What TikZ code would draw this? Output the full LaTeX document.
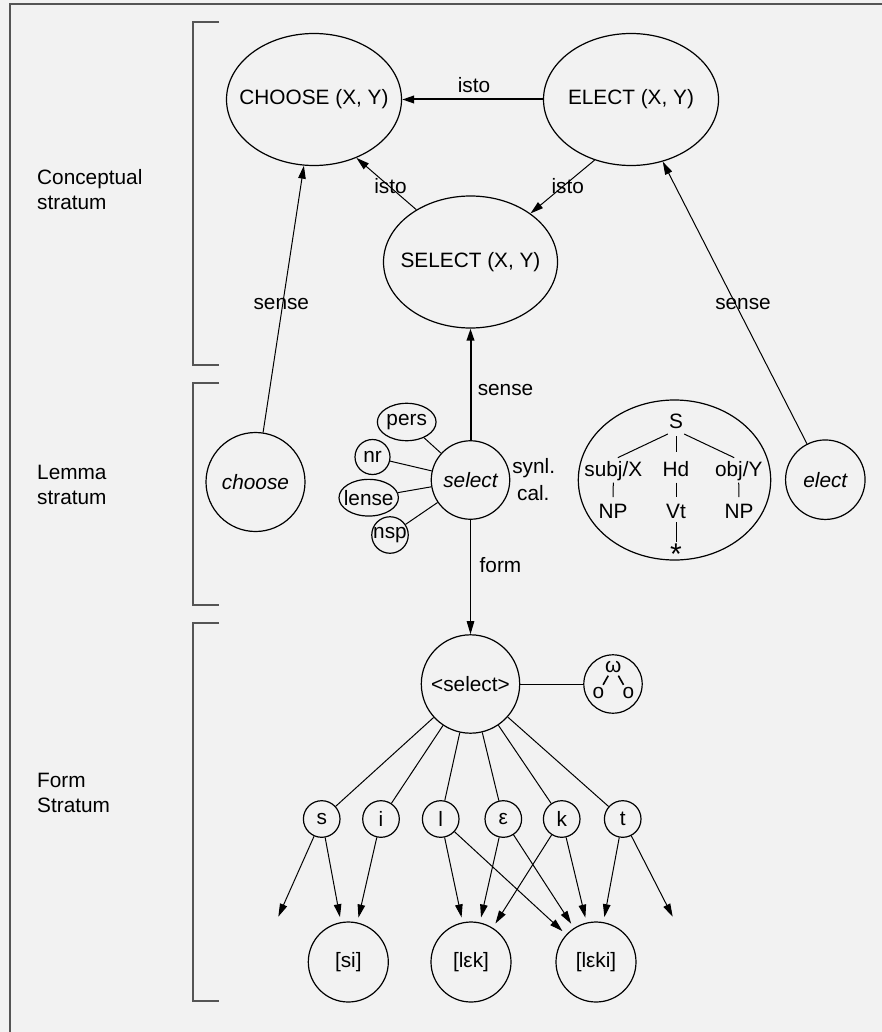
\documentclass[tikz,border=0pt]{standalone}
\usepackage{fontspec}
\setmainfont{Liberation Sans}
\usetikzlibrary{shapes.geometric,arrows.meta}
\definecolor{bg}{HTML}{F2F2F2}
\definecolor{framecol}{HTML}{555555}
\newcommand{\fsz}{\fontsize{20.8}{25}\selectfont}
\begin{document}
\begin{tikzpicture}[x=1pt,y=-1pt, font=\fsz,
  ell/.style={draw, ellipse, line width=1.2pt, inner sep=0pt},
  circ/.style={draw, circle, line width=1.2pt, inner sep=0pt},
  arr/.style={-{Triangle[length=13pt,width=7.5pt]}, line width=1pt},
  thickarr/.style={-{Triangle[length=12pt,width=7.5pt]}, line width=2pt},
  plain/.style={line width=1pt},
  txt/.style={inner sep=0pt, anchor=base},
  tree/.style={inner sep=1pt, anchor=base, text height=15pt, text depth=4.5pt},
  brk/.style={line width=1.6pt, draw=framecol},
  stratum/.style={inner sep=0pt, anchor=north west, align=left},
]
\fill[bg] (0,0) rectangle (882,1032);
\useasboundingbox (0,0) rectangle (882,1032);
\draw[line width=2pt, framecol] (9.5,1045) -- (9.5,4.5) -- (895,4.5);

% strata brackets
\draw[brk] (219,22) -- (193,22) -- (193,365) -- (219,365);
\draw[brk] (219,383) -- (193,383) -- (193,605) -- (219,605);
\draw[brk] (219,623) -- (193,623) -- (193,1001) -- (219,1001);
\node[stratum] (concL) at (37,169.5) {Conceptual\\stratum};
\node[stratum] (lemL) at (37,464.7) {Lemma\\stratum};
\node[stratum] (formL) at (37,773) {Form\\Stratum};

% conceptual stratum
\node[ell, minimum width=175pt, minimum height=132pt, label=center:{CHOOSE (X, Y)}] (CHOOSE) at (314,99.5) {};
\node[ell, minimum width=175pt, minimum height=132pt, label=center:{ELECT (X, Y)}] (ELECT) at (631,99.5) {};
\node[ell, minimum width=174pt, minimum height=132pt, label=center:{SELECT (X, Y)}] (SELECT) at (470.5,262) {};

\draw[thickarr] (ELECT.west) -- (CHOOSE.east);
\draw[arr] (SELECT.136) -- (CHOOSE.-54);
\draw[arr] (ELECT.239) -- (SELECT.39);
\node[txt] (isto1) at (474,92.3) {isto};
\node[txt] (isto2) at (390.5,193.3) {isto};
\node[txt] (isto3) at (567.8,193.3) {isto};

% lemma stratum
\node[circ, minimum size=99pt, label=center:{\itshape choose}] (choose) at (255.5,482) {};
\node[circ, minimum size=79.5pt, label=center:{\itshape elect}] (elect) at (825.3,479.7) {};
\node[circ, minimum size=78.5pt, label=center:{\itshape select}] (sel) at (470.5,480) {};
\node[ell, minimum width=58.7pt, minimum height=37.4pt, label=center:{pers}] (pers) at (406.7,422) {};
\node[circ, minimum size=35pt, label=center:{nr}] (nr) at (372.5,457) {};
\node[ell, minimum width=59.4pt, minimum height=36.7pt, label=center:{lense}] (lense) at (368.7,497.7) {};
\node[circ, minimum size=36.5pt, label=center:{nsp}] (nsp) at (390,535) {};
\draw[plain] (pers) -- (sel);
\draw[plain] (nr) -- (sel);
\draw[plain] (lense) -- (sel);
\draw[plain] (nsp) -- (sel);
\node[txt] (synl) at (533.7,473.3) {synl.};
\node[txt] (cal) at (533.3,500) {cal.};

\draw[arr] (choose) -- (CHOOSE);
\draw[arr] (elect) -- (ELECT);
\draw[thickarr] (sel) -- (SELECT);
\node[txt] (sense1) at (281.3,309.3) {sense};
\node[txt] (sense2) at (743,309.3) {sense};
\node[txt] (sense3) at (505.5,395) {sense};

% syntactic frame
\node[ell, minimum width=192.4pt, minimum height=160pt] (frame) at (674.5,480) {};
\node[tree] (tS) at (676,428.3) {S};
\node[tree] (tsubj) at (613.3,476) {subj/X};
\node[tree] (tHd) at (676,476) {Hd};
\node[tree] (tobj) at (738.7,476) {obj/Y};
\node[tree] (tNPa) at (613,518.3) {NP};
\node[tree] (tVt) at (676,518.3) {Vt};
\node[tree] (tNPb) at (739,518.3) {NP};
\node[tree, font=\fontsize{30}{30}\selectfont, text height=20pt, text depth=0pt] (tstar) at (676,564) {*};
\draw[plain, shorten >=5pt] (tS.south west) -- (tsubj.north);
\draw[plain, shorten >=5pt] (tS.south east) -- (tobj.north);
\draw[plain, shorten <=2pt, shorten >=8pt] (tS.south) -- (tHd.north);
\draw[plain, shorten <=1pt, shorten >=5pt] (tsubj.south) -- (tNPa.north);
\draw[plain, shorten <=1pt, shorten >=5pt] (tHd.south) -- (tVt.north);
\draw[plain, shorten <=1pt, shorten >=5pt] (tobj.south) -- (tNPb.north);
\draw[plain, shorten <=-2pt, shorten >=1pt] (tVt.south) -- (tstar.north);

% form stratum
\node[circ, minimum size=98.4pt] (fsel) at (470.5,684) {<select>};
\draw[arr] (sel) -- (fsel);
\node[txt] (form) at (500.5,572.3) {form};
\node[circ, minimum size=58.4pt] (omega) at (613,684) {};
\node[inner sep=0pt] (om) at (613.3,666.7) {ω};
\node[inner sep=0pt] (oa) at (598.3,693.3) {o};
\node[inner sep=0pt] (ob) at (628.3,693.3) {o};
\draw[line width=1.6pt, shorten <=3.5pt, shorten >=3pt] (om) -- (oa);
\draw[line width=1.6pt, shorten <=3.5pt, shorten >=3pt] (om) -- (ob);
\draw[plain] (fsel) -- (omega);

\foreach \n/\x/\t in {ps/321.7/s, pi/381/i, pl/440.7/l, pe/503.3/ε, pk/561.7/k, pt/622.7/t}{
  \node[circ, minimum size=36.6pt] (\n) at (\x,819) {\t};
  \draw[plain] (fsel) -- (\n);
}
\node[circ, minimum size=80pt] (si) at (348.3,962) {[si]};
\node[circ, minimum size=80pt] (lek) at (471,962) {[lεk]};
\node[circ, minimum size=80pt] (leki) at (596,962) {[lεki]};
\coordinate (dl) at (278.3,916.7);
\coordinate (dr) at (672.7,916.7);
\draw[arr] (ps) -- (dl);
\draw[arr, shorten >=5pt] (ps) -- (si);
\draw[arr, shorten >=5pt] (pi) -- (si);
\draw[arr, shorten >=5pt] (pl) -- (lek);
\draw[arr, shorten >=5pt] (pe) -- (lek);
\draw[arr, shorten >=5pt] (pk) -- (lek);
\draw[arr, shorten >=5pt] (pl) -- (leki);
\draw[arr, shorten >=5pt] (pe) -- (leki);
\draw[arr, shorten >=5pt] (pk) -- (leki);
\draw[arr, shorten >=5pt] (pt) -- (leki);
\draw[arr] (pt) -- (dr);
\end{tikzpicture}
\end{document}
